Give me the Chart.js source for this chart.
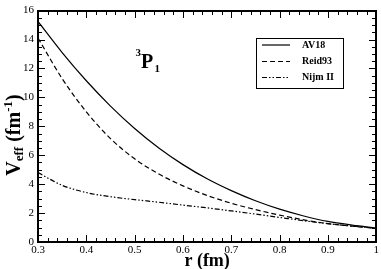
<!DOCTYPE html>
<html>
<head>
    <title>3P1 effective potential</title>
    <script src="https://cdn.jsdelivr.net/npm/chart.js"></script>
    <style>
        body { margin: 0; background: #fff; }
    </style>
</head>
<body>
    <canvas id="potChart" width="381" height="269"></canvas>

    <script>
        // r values (fm)
        const radii = [0.30, 0.35, 0.40, 0.45, 0.50, 0.55, 0.60, 0.65, 0.70, 0.75, 0.80, 0.85, 0.90, 0.95, 1.00];
        // V_eff (fm^-1)
        const av18   = [15.25, 13.1, 11.15, 9.4, 7.85, 6.5, 5.35, 4.37, 3.55, 2.85, 2.27, 1.8, 1.42, 1.17, 0.97];
        const reid93 = [14.1, 11.3, 9.0, 7.15, 5.75, 4.7, 3.88, 3.22, 2.68, 2.24, 1.86, 1.53, 1.27, 1.09, 0.95];
        const nijm2  = [4.8, 3.92, 3.42, 3.13, 2.93, 2.75, 2.55, 2.36, 2.15, 1.93, 1.7, 1.47, 1.27, 1.1, 0.95];
        const seriesNames = ['AV18', 'Reid93', 'Nijm II'];
        const dashes = [[], [5, 3], [5, 2, 1.5, 2, 1.5, 2]];

        const SERIF = '"Liberation Serif", "DejaVu Serif", serif';

        function toPoints(vals) {
            return vals.map((v, i) => ({ x: radii[i], y: v }));
        }

        // frame and inward ticks, as filled strips placed through the scales
        function drawFrame(chart) {
            const ctx = chart.ctx;
            const sx = chart.scales.x, sy = chart.scales.y;
            const L = Math.round(sx.getPixelForValue(0.3));
            const R = Math.round(sx.getPixelForValue(1.0));
            const T = Math.round(sy.getPixelForValue(16));
            const B = Math.round(sy.getPixelForValue(0));
            ctx.fillStyle = '#000';
            ctx.fillRect(L - 1, T - 1, R - L + 2, 2);
            ctx.fillRect(L - 1, B - 1, R - L + 2, 2);
            ctx.fillRect(L - 1, T - 1, 2, B - T + 2);
            ctx.fillRect(R - 1, T - 1, 2, B - T + 2);
            for (let i = 0; i <= 35; i++) {
                const px = Math.round(sx.getPixelForValue(0.3 + i * 0.02));
                const len = i % 5 === 0 ? 7 : 4;
                ctx.fillRect(px, B - len, 1, len);
                ctx.fillRect(px, T, 1, len);
            }
            for (let i = 0; i <= 32; i++) {
                const py = Math.round(sy.getPixelForValue(i * 0.5));
                const len = i % 4 === 0 ? 7 : 4;
                ctx.fillRect(L, py, len, 1);
                ctx.fillRect(R - len, py, len, 1);
            }
        }

        function drawExtras(chart) {
            const ctx = chart.ctx;
            ctx.fillStyle = '#000';
            ctx.strokeStyle = '#000';

            // legend
            ctx.lineWidth = 1;
            ctx.strokeRect(256.5, 38.5, 87, 50);
            ctx.font = 'bold 10px ' + SERIF;
            ctx.textBaseline = 'middle';
            const rows = [45, 61.5, 77.5];
            chart.data.datasets.forEach((ds, i) => {
                ctx.beginPath();
                ctx.setLineDash(ds.borderDash);
                ctx.lineWidth = 1.2;
                ctx.moveTo(262, rows[i]);
                ctx.lineTo(290, rows[i]);
                ctx.stroke();
                ctx.setLineDash([]);
                ctx.fillText(ds.label, 302, rows[i]);
            });

            // 3P1 label
            ctx.textBaseline = 'alphabetic';
            ctx.font = 'bold 11px ' + SERIF;
            ctx.fillText('3', 135.5, 55.5);
            ctx.font = 'bold 20px ' + SERIF;
            ctx.fillText('P', 141, 67.5);
            ctx.font = 'bold 11px ' + SERIF;
            ctx.fillText('1', 154.5, 72);

            // y axis title
            ctx.translate(20, 135);
            ctx.rotate(-Math.PI / 2);
            const parts = [
                { t: 'V', f: 'bold 20px ', dy: 0 },
                { t: 'eff', f: 'bold 13px ', dy: 3 },
                { t: ' (fm', f: 'bold 20px ', dy: 0 },
                { t: '-1', f: 'bold 13px ', dy: -8 },
                { t: ')', f: 'bold 20px ', dy: 0 }
            ];
            let w = 0;
            parts.forEach(p => { ctx.font = p.f + SERIF; w += ctx.measureText(p.t).width; });
            let x = -w / 2;
            parts.forEach(p => {
                ctx.font = p.f + SERIF;
                ctx.fillText(p.t, x, p.dy);
                x += ctx.measureText(p.t).width;
            });
        }

        const decorations = {
            id: 'decorations',
            afterDraw(chart) {
                const ctx = chart.ctx;
                ctx.save();
                drawExtras(chart);
                ctx.restore();
                ctx.save();
                drawFrame(chart);
                ctx.restore();
            }
        };

        const series = [av18, reid93, nijm2];

        new Chart(document.getElementById('potChart').getContext('2d'), {
            type: 'line',
            data: {
                datasets: series.map((vals, i) => ({
                    label: seriesNames[i],
                    data: toPoints(vals),
                    borderColor: '#000',
                    borderWidth: 1.2,
                    borderDash: dashes[i],
                    pointRadius: 0,
                    cubicInterpolationMode: 'monotone',
                    fill: false
                }))
            },
            options: {
                responsive: false,
                animation: false,
                layout: { padding: { top: 0, right: 0, left: 0, bottom: 0 } },
                plugins: { legend: { display: false }, tooltip: { enabled: false } },
                scales: {
                    x: {
                        type: 'linear',
                        min: 0.3,
                        max: 1.0,
                        grid: { display: false, drawTicks: false },
                        border: { display: false },
                        ticks: {
                            stepSize: 0.1,
                            padding: 2,
                            color: '#000',
                            font: { family: SERIF, size: 11 },
                            maxRotation: 0,
                            callback: v => (Math.abs(v - 1) < 1e-6 ? '1' : v.toFixed(1))
                        },
                        title: {
                            display: true,
                            text: 'r (fm)',
                            color: '#000',
                            padding: { top: 0, bottom: -3 },
                            font: { family: SERIF, size: 18, weight: 'bold' }
                        },
                        afterFit: s => { s.height = 27; }
                    },
                    y: {
                        min: 0,
                        max: 16,
                        grid: { display: false, drawTicks: false },
                        border: { display: false },
                        ticks: {
                            stepSize: 2,
                            padding: 4,
                            color: '#000',
                            font: { family: SERIF, size: 11 }
                        },
                        afterFit: s => { s.width = 38; }
                    }
                }
            },
            plugins: [decorations]
        });
    </script>
</body>
</html>
